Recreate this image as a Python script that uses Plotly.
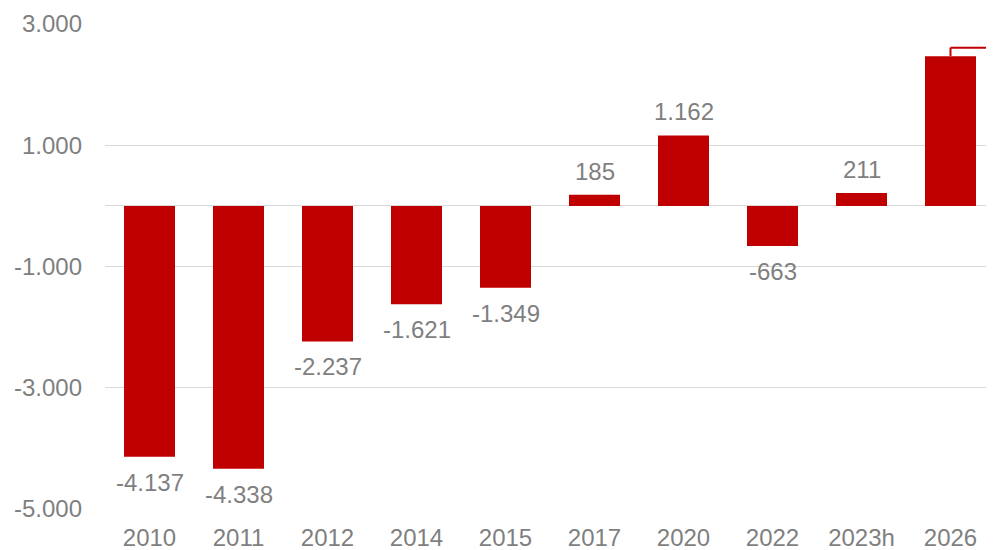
import plotly.graph_objects as go

years = ["2010", "2011", "2012", "2014", "2015", "2017", "2020", "2022", "2023h", "2026"]
values = [-4137, -4338, -2237, -1621, -1349, 185, 1162, -663, 211, 2470]
show_label = [True, True, True, True, True, True, True, True, True, False]
ytick_vals = [-5000, -3000, -1000, 1000, 3000]

RED = "#C00000"
GRAY = "#7f7f7f"
FONT = "Liberation Sans, Arial, sans-serif"

def fmt(v):
    return f"{v:,}".replace(",", ".")

fig = go.Figure()
fig.add_trace(go.Bar(x=years, y=values, marker=dict(color=RED, line=dict(width=0)),
                     hoverinfo="skip"))

for i, (v, s) in enumerate(zip(values, show_label)):
    if not s:
        continue
    fig.add_annotation(x=i, y=v, text=fmt(v), showarrow=False,
                       yanchor="top" if v < 0 else "bottom",
                       yshift=-10 if v < 0 else 8,
                       font=dict(family=FONT, size=24, color=GRAY))

# callout leader for last bar (label falls outside the visible area)
n = len(years)
last_i = n - 1
last_v = values[-1]
fig.add_shape(type="line", xref="x", yref="y", x0=last_i, x1=last_i, y0=last_v, y1=last_v + 140,
              line=dict(color=RED, width=2))
fig.add_shape(type="line", xref="paper", yref="y", x0=(last_i + 0.5) / n, x1=1.05,
              y0=last_v + 140, y1=last_v + 140,
              line=dict(color=RED, width=2))

fig.update_layout(
    width=994, height=550,
    margin=dict(l=97, r=7, t=16, b=49, autoexpand=False),
    plot_bgcolor="white", paper_bgcolor="white",
    bargap=0.427,
    showlegend=False,
    font=dict(family=FONT, size=24, color=GRAY),
)
fig.update_xaxes(type="category", categoryorder="array", categoryarray=years,
                 range=[-0.5, n - 0.5], showgrid=False, showline=False, ticks="",
                 tickfont=dict(family=FONT, size=24, color=GRAY), ticklabelstandoff=12,
                 automargin=False)
fig.update_yaxes(range=[-5000, 3000], tickvals=ytick_vals, ticktext=[fmt(v) for v in ytick_vals],
                 showgrid=True, gridcolor="#d9d9d9", gridwidth=1,
                 zeroline=True, zerolinecolor="#d9d9d9", zerolinewidth=1,
                 showline=False, ticks="", ticklabelstandoff=22, automargin=False,
                 tickfont=dict(family=FONT, size=24, color=GRAY))

fig.write_html("out.html")
